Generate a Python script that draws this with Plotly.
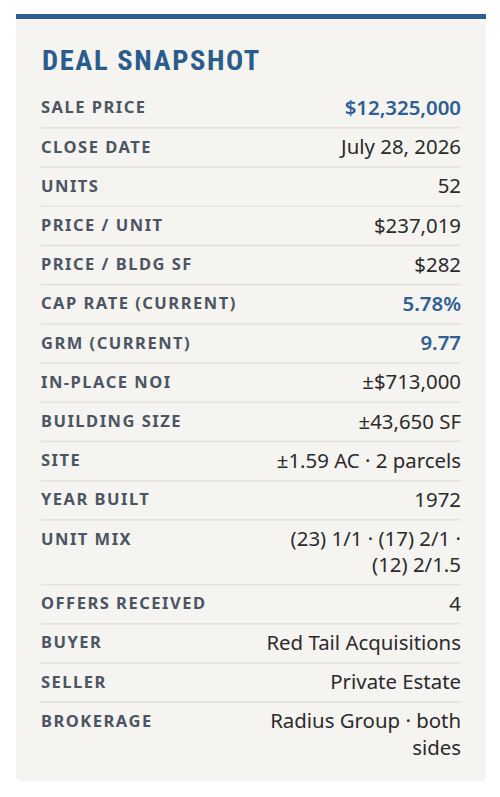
import plotly.graph_objects as go

# ---- data ----
labels = ['SALE PRICE', 'CLOSE DATE', 'UNITS', 'PRICE / UNIT', 'PRICE / BLDG SF',
          'CAP RATE (CURRENT)', 'GRM (CURRENT)', 'IN-PLACE NOI', 'BUILDING SIZE',
          'SITE', 'YEAR BUILT', 'UNIT MIX', 'OFFERS RECEIVED', 'BUYER', 'SELLER',
          'BROKERAGE']
values = ['$12,325,000', 'July 28, 2026', '52', '$237,019', '$282', '5.78%', '9.77',
          '±$713,000', '±43,650 SF', '±1.59 AC · 2 parcels', '1972',
          '(23) 1/1 · (17) 2/1 ·<br>(12) 2/1.5', '4', 'Red Tail Acquisitions',
          'Private Estate', 'Radius Group · both<br>sides']
highlight = ['SALE PRICE', 'CAP RATE (CURRENT)', 'GRM (CURRENT)']
title = 'DEAL SNAPSHOT'

# ---- style ----
W, H = 500, 797
CARD_X0, CARD_X1, CARD_Y0, CARD_Y1 = 16, 486, 14, 781
PAD_L, PAD_R = 41, 461
FIRST_TOP = 88.6
ROW_H = 39.2
LINE_H = 25.5
TEXT_OFF = 20.6

BLUE = '#2d6094'
LABEL_C = '#4b5563'
VALUE_C = '#2b2b2b'
CARD_BG = '#f5f4f0'
RULE_C = '#e4e2db'

# row geometry from the number of lines in each value
centers_lbl, centers_val, dividers = [], [], []
y = FIRST_TOP
for v in values:
    n = v.count('<br>') + 1
    centers_lbl.append(y + TEXT_OFF)
    centers_val.append(y + TEXT_OFF + 0.8 + (n - 1) * LINE_H / 2)
    y += ROW_H + (n - 1) * LINE_H
    dividers.append(y)
dividers = dividers[:-1]

fig = go.Figure()

# labels
fig.add_trace(go.Scatter(
    x=[PAD_L] * len(labels), y=centers_lbl, mode='text',
    text=['<span style="letter-spacing:1.5px">%s</span>' % l for l in labels],
    textposition='middle right',
    textfont=dict(family='Noto Sans, DejaVu Sans', size=16.5, color=LABEL_C, weight='bold'),
    hoverinfo='skip', showlegend=False))

# values - plain / highlighted
for hl in (False, True):
    idx = [i for i, l in enumerate(labels) if (l in highlight) == hl]
    fig.add_trace(go.Scatter(
        x=[PAD_R] * len(idx), y=[centers_val[i] for i in idx], mode='text',
        text=[values[i] for i in idx],
        textposition='middle left',
        textfont=dict(family='Noto Sans, DejaVu Sans', size=20.4,
                      color=BLUE if hl else VALUE_C,
                      weight=600 if hl else 'normal'),
        hoverinfo='skip', showlegend=False))

r = 5
card_path = ('M %d,%d L %d,%d L %d,%d Q %d,%d %d,%d L %d,%d Q %d,%d %d,%d Z'
             % (CARD_X0, CARD_Y0, CARD_X1, CARD_Y0, CARD_X1, CARD_Y1 - r,
                CARD_X1, CARD_Y1, CARD_X1 - r, CARD_Y1, CARD_X0 + r, CARD_Y1,
                CARD_X0, CARD_Y1, CARD_X0, CARD_Y1 - r))
shapes = [dict(type='path', path=card_path, fillcolor=CARD_BG, line_width=0, layer='below'),
          dict(type='rect', x0=CARD_X0, x1=CARD_X1, y0=CARD_Y0, y1=CARD_Y0 + 5,
               fillcolor='#2c5f8c', line_width=0, layer='below')]
for d in dividers:
    shapes.append(dict(type='line', x0=PAD_L, x1=PAD_R, y0=d, y1=d,
                       line=dict(color=RULE_C, width=1.6), layer='below'))

fig.update_layout(
    width=W, height=H,
    margin=dict(l=0, r=0, t=0, b=0),
    paper_bgcolor='white', plot_bgcolor='white',
    xaxis=dict(range=[0, W], visible=False, fixedrange=True),
    yaxis=dict(range=[H, 0], visible=False, fixedrange=True),
    shapes=shapes,
    annotations=[dict(
        x=PAD_L - 1, y=60.5, xref='x', yref='y', xanchor='left', yanchor='middle',
        text='<span style="letter-spacing:1.6px">%s</span>' % title, showarrow=False,
        font=dict(family='Roboto Condensed, Liberation Sans Narrow, Arial Narrow',
                  size=28.5, color='#2a5d8c', weight='bold'))],
)

fig.write_html('out.html', config={'displayModeBar': False},
               post_script="document.body.style.margin='0';")
